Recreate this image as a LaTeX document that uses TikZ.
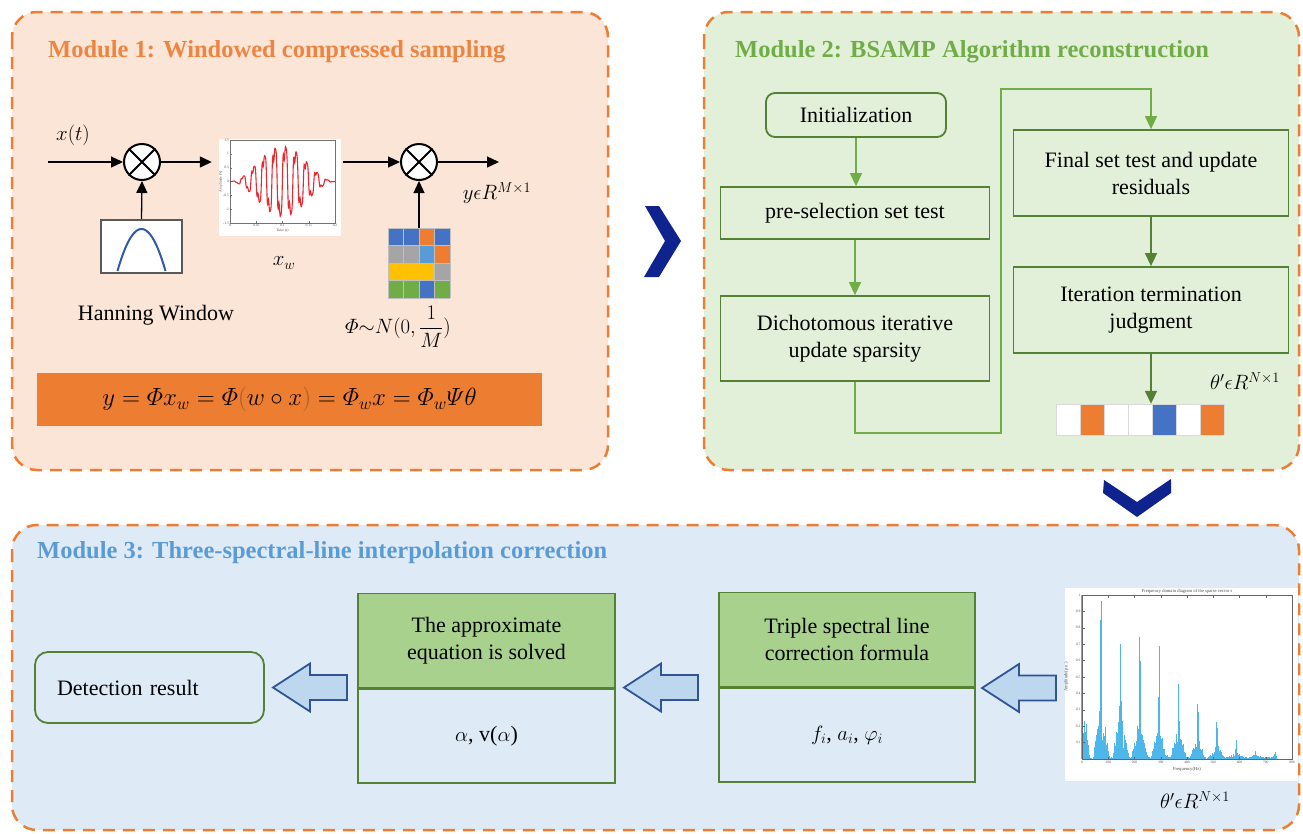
\documentclass[tikz,border=0pt]{standalone}
\usepackage{amsmath}
\usepackage{fontspec}
\setmainfont{LiberationSerif}[Extension=.ttf, UprightFont=*-Regular, BoldFont=*-Bold, ItalicFont=*-Italic, BoldItalicFont=*-BoldItalic]
\usetikzlibrary{arrows.meta,calc}

\definecolor{orangeC}{HTML}{ED7D31}
\definecolor{titleO}{HTML}{EE8440}
\definecolor{greenT}{HTML}{70AD47}
\definecolor{blueT}{HTML}{5B9BD5}
\definecolor{bgOne}{HTML}{FBE5D6}
\definecolor{bgTwo}{HTML}{E2F0D9}
\definecolor{bgThree}{HTML}{DEEBF7}
\definecolor{gdark}{HTML}{548235}
\definecolor{glight}{HTML}{70AD47}
\definecolor{gfill}{HTML}{A9D18E}
\definecolor{navy}{HTML}{0E238E}
\definecolor{arrFill}{HTML}{BDD7EE}
\definecolor{arrEdge}{HTML}{2F5597}
\definecolor{cBlue}{HTML}{4472C4}
\definecolor{cGray}{HTML}{A5A5A5}
\definecolor{cLBlue}{HTML}{5B9BD5}
\definecolor{cYellow}{HTML}{FFC000}
\definecolor{cGreen}{HTML}{70AD47}
\definecolor{waveRed}{HTML}{E8272F}
\definecolor{specBlue}{HTML}{4DB6EA}
\definecolor{hannBlue}{HTML}{2F5AA8}
\definecolor{parenC}{HTML}{9C5A2E}

\tikzset{
  modbox/.style={draw=orangeC, line width=2.5pt, dash pattern=on 12pt off 8pt, rounded corners=25pt},
  modtitle/.style={anchor=west, inner sep=0, font=\bfseries\fontsize{24.5}{28}\selectfont},
  txt/.style={font=\fontsize{22}{27}\selectfont, align=center, inner sep=0},
  mth/.style={font=\fontsize{22}{27}\selectfont, inner sep=0},
  flowbox/.style={txt, draw=gdark, line width=1.8pt},
  sigarr/.style={line width=1.3pt, -{Triangle[length=12pt,width=11pt]}},
  flowarr/.style={glight, line width=1.3pt, -{Triangle[length=13pt,width=12pt]}},
  flowarrD/.style={gdark, line width=1.6pt, -{Triangle[length=13pt,width=12pt]}},
  mult/.style={circle, draw, line width=2pt, fill=white, minimum size=36pt, inner sep=0},
  chev/.style={fill=navy},
  barrow/.pic={\draw[fill=arrFill, draw=arrEdge, line width=1.8pt, line join=miter]
      (0,0) -- (37,-24) -- (37,-12.5) -- (74,-12.5) -- (74,12.5) -- (37,12.5) -- (37,24) -- cycle;},
  tinylbl/.style={inner sep=0.5pt, font=\fontsize{3.6}{4}\selectfont, text=black!70},
}

\begin{document}
\begin{tikzpicture}[x=1pt,y=-1pt]
\useasboundingbox (0,0) rectangle (1303,833);
\fill[white] (0,0) rectangle (1303,833);

% ---------- module frames ----------
\fill[bgOne, rounded corners=25pt] (12,12) rectangle (608,470);
\draw[modbox] (12,12) rectangle (608,470);
\fill[bgTwo, rounded corners=25pt] (704,12) rectangle (1299,470);
\draw[modbox] (704,12) rectangle (1299,470);
\fill[bgThree, rounded corners=25pt] (12,525) rectangle (1299,830);
\draw[modbox] (12,525) rectangle (1299,830);

\node[modtitle, text=titleO] (t1) at (48,52) {Module 1: Windowed compressed sampling};
\node[modtitle, text=greenT] (t2) at (735,52) {Module 2: BSAMP Algorithm reconstruction};
\node[modtitle, text=blueT] (t3) at (37,553) {Module 3: Three-spectral-line interpolation correction};

% ---------- chevrons between modules ----------
\fill[chev] (645,206) -- (659,206) -- (681,241) -- (659,277) -- (644,277) -- (665,241) -- cycle;
\fill[chev] (1104,480) -- (1137,502) -- (1171,479) -- (1171,493) -- (1137,517) -- (1103,493) -- cycle;

% ---------- Module 1 ----------
\node[mult] (m1) at (142,162) {};
\draw[line width=2pt] (m1.north west) -- (m1.south east) (m1.north east) -- (m1.south west);
\node[mult] (m2) at (419,162) {};
\draw[line width=2pt] (m2.north west) -- (m2.south east) (m2.north east) -- (m2.south west);

\coordinate (xin) at (48,162);
\coordinate (yout) at (499,162);
\node[mth] (xt) at (73,135) {$x(t)$};

% windowed signal plot (parameter: number of 50 Hz cycles)
\node[fill=white, minimum width=122pt, minimum height=97pt, inner sep=0] (wv) at (280,187.5) {};
\draw[black!55, line width=0.4pt] (230,140) rectangle (335,223);
\foreach \s/\l in {-1.5/-1.5,-1/-1,-0.5/-0.5,0/0,0.5/0.5,1/1,1.5/1.5}{
  \draw[black!55, line width=0.3pt] (230,{181.5-27.7*\s}) -- ++(2,0);
  \node[tinylbl, anchor=east] at (229.5,{181.5-27.7*\s}) {\l};
}
\foreach \t/\l in {0/0,0.05/0.05,0.1/0.1,0.15/0.15,0.2/0.2}{
  \draw[black!55, line width=0.3pt] ({230+525*\t},223) -- ++(0,-2);
  \node[tinylbl, anchor=north] at ({230+525*\t},223.5) {\l};
}
\node[tinylbl, anchor=north] at (282.5,228.5) {Time (s)};
\node[tinylbl, rotate=90, anchor=south] at (223,181.5) {Amplitude (V)};
\draw[waveRed, line width=1.1pt] plot[domain=0:10, samples=400, variable=\c]
  ({230+\c*10.5}, {181.5-27.7*(0.5*(1-cos(36*\c)))*(1.3*sin(360*\c)+0.35*sin(1080*\c+40)+0.15*sin(1800*(\c-floor(\c))))});
\node[mth] (xw) at (284,263) {$x_w$};

\draw[sigarr] (xin) -- (m1.west);
\draw[sigarr, shorten >=7pt] (m1.east) -- (wv.west |- m1.east);
\draw[sigarr, shorten <=2pt] (wv.east |- m2.west) -- (m2.west);
\draw[sigarr] (m2.east) -- (yout);
\node[mth] (ylab) at (497,193) {$y\epsilon R^{M\times 1}$};

% Hanning window
\node[draw=black!65, line width=1.6pt, fill=white, minimum width=81pt, minimum height=53pt, inner sep=0] (hw) at (141.5,246.5) {};
\draw[hannBlue, line width=2pt] plot[domain=-1:1, samples=40, variable=\u] ({141.5+24*\u},{229+42*\u*\u});
\draw[sigarr] (hw.north) -- (m1.south);
\node[txt] (hwlab) at (156,315) {Hanning Window};

% measurement matrix
\node[minimum width=62pt, minimum height=70pt, inner sep=0] (mx) at (419,263) {};
\foreach \col [count=\i from 0] in {cBlue,cBlue,orangeC,cBlue}{\fill[\col] ({388+15.5*\i},228) rectangle ++(15.5,17.5);}
\foreach \col [count=\i from 0] in {cGray,cGray,cLBlue,orangeC}{\fill[\col] ({388+15.5*\i},245.5) rectangle ++(15.5,17.5);}
\foreach \col [count=\i from 0] in {cYellow,cYellow,cYellow,cGray}{\fill[\col] ({388+15.5*\i},263) rectangle ++(15.5,17.5);}
\foreach \col [count=\i from 0] in {cGreen,cGreen,cBlue,cGreen}{\fill[\col] ({388+15.5*\i},280.5) rectangle ++(15.5,17.5);}
\foreach \i in {0,...,4}{\draw[black!25, line width=0.4pt] ({388+15.5*\i},228) -- ++(0,70);}
\foreach \i in {0,...,4}{\draw[black!25, line width=0.4pt] (388,{228+17.5*\i}) -- ++(62,0);}
\draw[sigarr] (mx.north) -- (m2.south);
\node[mth] (phil) at (398,327) {$\varPhi{\sim}N(0,\dfrac{1}{M})$};

% compressed sampling equation
\node[fill=orangeC, minimum width=505pt, minimum height=53pt, inner sep=0, mth, font=\fontsize{24}{28}\selectfont] (eq) at (289.5,399.5)
  {$y=\varPhi x_w=\varPhi\textcolor{parenC}{(}w\circ x\textcolor{parenC}{)}=\varPhi_w x=\varPhi_w\varPsi\theta$};

% ---------- Module 2 ----------
\node[flowbox, rounded corners=9pt, minimum width=180pt, minimum height=44pt] (init) at (856,115) {Initialization};
\node[flowbox, minimum width=269pt, minimum height=52pt] (pre) at (855,213) {pre-selection set test};
\node[flowbox, minimum width=269pt, minimum height=85pt] (dich) at (855,338.5) {Dichotomous iterative\\update sparsity};
\node[flowbox, minimum width=275pt, minimum height=86pt] (fin) at (1151,173) {Final set test and update\\residuals};
\node[flowbox, minimum width=275pt, minimum height=86pt] (iter) at (1151,310) {Iteration termination\\judgment};

\draw[flowarr] (init.south) -- (init.south |- pre.north);
\draw[flowarr] (pre.south) -- (pre.south |- dich.north);
\coordinate (lb) at (1001,433);
\coordinate (lt) at (1001,89);
\draw[flowarr] (dich.south) |- (lb) -- (lt) -| (fin.north);
\draw[flowarrD] (fin.south) -- (iter.north);

% sparse coefficient vector
\node[minimum width=168pt, minimum height=31pt, inner sep=0] (vec) at (1140,419.5) {};
\foreach \col [count=\i from 0] in {white,orangeC,white,white,cBlue,white,orangeC}{
  \fill[\col] ({1056+24*\i},404) rectangle ++(24,31);
}
\foreach \i in {0,...,7}{\draw[black!15, line width=0.6pt] ({1056+24*\i},404) -- ++(0,31);}
\draw[black!15, line width=0.6pt] (1056,404) -- (1224,404) (1056,435) -- (1224,435);
\draw[flowarrD] (iter.south) -- (iter.south |- vec.north);
\node[mth] (thetaA) at (1245,381) {$\theta'\epsilon R^{N\times 1}$};

% ---------- Module 3 ----------
\node[draw=gdark, line width=1.8pt, rounded corners=13pt, minimum height=71pt, text width=185pt,
      inner xsep=22pt, inner ysep=0, align=left, font=\fontsize{22}{27}\selectfont] (det) at (149.5,687.5) {Detection result};

\node[flowbox, fill=gfill, minimum width=257pt, minimum height=94pt] (solT) at (486.5,640.5) {The approximate\\equation is solved};
\node[flowbox, fill=bgThree, minimum width=257pt, minimum height=94pt, anchor=north] (solB) at (solT.south) {$\alpha$, v($\alpha$)};

\node[flowbox, fill=gfill, minimum width=256pt, minimum height=94pt] (triT) at (847,639.5) {Triple spectral line\\correction formula};
\node[flowbox, fill=bgThree, minimum width=256pt, minimum height=94pt, anchor=north] (triB) at (triT.south) {$f_i$, $a_i$, $\varphi_i$};

% spectrum of the reconstructed sparse vector
\node[fill=white, minimum width=233pt, minimum height=193pt, inner sep=0] (sp) at (1181.5,684.5) {};
\pgfmathsetseed{11}
\foreach \f in {0,2,...,740}{
  \pgfmathtruncatemacro\k{round(\f/73.5)}
  \pgfmathsetmacro\A{{1.0,0.9,0.73,0.6,0.51,0.43,0.32,0.19,0.08,0.04,0.03}[\k]}
  \pgfmathsetmacro\d{abs(\f-73.5*\k)}
  \pgfmathsetmacro\h{min(1,\A*max(0,1-\d/4)+\A*0.45*max(0,1-\d/32)*(0.3+0.7*rnd)+0.015*rnd)}
  \draw[specBlue, line width=0.95pt] ({1082+0.2625*\f},759) -- ({1082+0.2625*\f},{759-164*\h});
}
\draw[specBlue, line width=1.2pt] (1082,759) -- (1082,595);
\draw[specBlue, line width=1.2pt] ({1082+0.2625*73.5},759) -- ++(0,{-164*0.9});
\draw[black!60, line width=0.5pt] (1082,595) rectangle (1292,759);
\foreach \a in {1,...,9}{
  \draw[black!60, line width=0.3pt] (1082,{759-16.4*\a}) -- ++(2.5,0);
  \node[tinylbl, anchor=east] at (1081,{759-16.4*\a}) {0.\a};
}
\node[tinylbl, anchor=east] at (1081,595) {1};
\foreach \f in {0,100,...,800}{
  \draw[black!60, line width=0.3pt] ({1082+0.2625*\f},759) -- ++(0,-2.5);
  \draw[black!60, line width=0.3pt] ({1082+0.2625*\f},595) -- ++(0,2.5);
  \node[tinylbl, anchor=north] at ({1082+0.2625*\f},760) {\f};
}
\node[tinylbl, anchor=south, font=\fontsize{4.6}{5}\selectfont] at (1187,594) {Frequency domain diagram of the sparse vector s};
\node[tinylbl, anchor=north, font=\fontsize{4.6}{5}\selectfont] at (1187,767) {Frequency(Hz)};
\node[tinylbl, rotate=90, anchor=south, font=\fontsize{4.6}{5}\selectfont] at (1069,677) {Amplitude(p.u.)};
\node[mth] (thetaB) at (1195,800) {$\theta'\epsilon R^{N\times 1}$};

% hollow block arrows pointing from right to left
\pic at (273,687.5) {barrow};
\pic at (624,687.5) {barrow};
\pic at (982,688) {barrow};

\end{tikzpicture}
\end{document}
